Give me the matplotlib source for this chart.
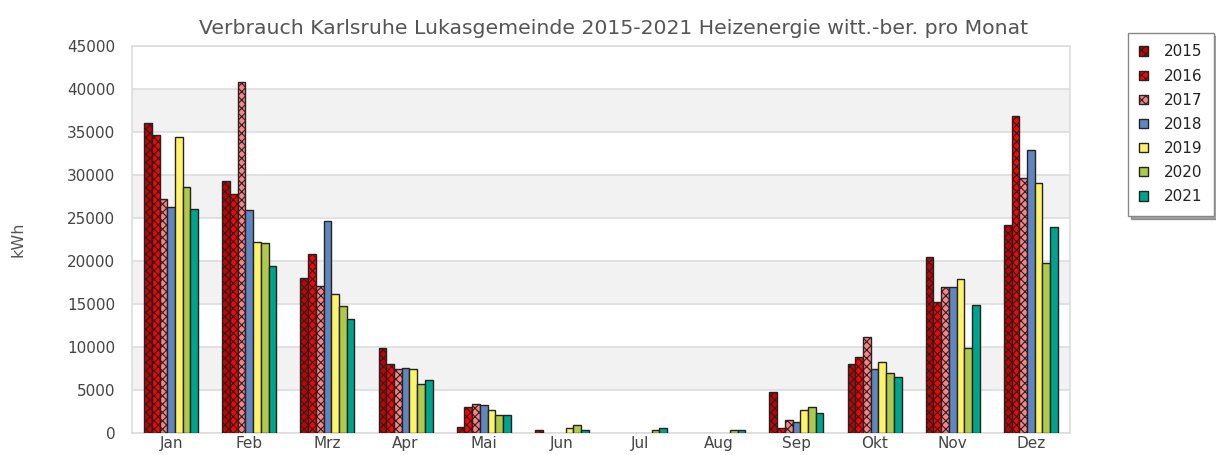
import matplotlib
matplotlib.use("Agg")
import matplotlib.pyplot as plt
import numpy as np

months = ["Jan", "Feb", "Mrz", "Apr", "Mai", "Jun", "Jul", "Aug", "Sep", "Okt", "Nov", "Dez"]
years = ["2015", "2016", "2017", "2018", "2019", "2020", "2021"]

v2015 = [36100, 29300, 18000, 9900, 700, 350, 0, 0, 4800, 8000, 20500, 24200]
v2016 = [34600, 27800, 20800, 8000, 3060, 0, 0, 0, 550, 8870, 15200, 36860]
v2017 = [27200, 40800, 17100, 7400, 3370, 0, 0, 0, 1470, 11200, 16940, 29650]
v2018 = [26300, 25900, 24700, 7600, 3200, 0, 0, 0, 1240, 7400, 16940, 32870]
v2019 = [34400, 22200, 16200, 7400, 2700, 550, 0, 0, 2670, 8300, 17870, 29100]
v2020 = [28600, 22100, 14800, 5700, 2100, 900, 400, 350, 3020, 6940, 9880, 19730]
v2021 = [26100, 19400, 13300, 6200, 2100, 350, 600, 350, 2320, 6550, 14840, 24000]

series = [v2015, v2016, v2017, v2018, v2019, v2020, v2021]
colors = ["#c80000", "#ff0000", "#ff8080", "#5f86c0", "#fff36a", "#afc94c", "#00a38c"]
hatches = ["xxxx", "xxxx", "xxxx", None, None, None, None]

plt.rcParams['hatch.color'] = 'black'
plt.rcParams['hatch.linewidth'] = 0.8
plt.rcParams['font.family'] = ['DejaVu Sans']

fig = plt.figure(figsize=(12.16, 4.55), dpi=100)
ax = fig.add_axes([132/1216, 1-433/455, (1070-132)/1216, (433-46)/455])

x = np.arange(len(months))
n = len(series)
bw = 0.69 / n
for i, (vals, c, h) in enumerate(zip(series, colors, hatches)):
    v = np.array(vals, dtype=float)
    v[v == 0] = np.nan
    ax.bar(x - 0.345 + bw*(i+0.5), v, width=bw, color=c, edgecolor="#222222",
           linewidth=1.0, hatch=h, zorder=3, label=years[i])

ax.set_xlim(-0.5, 11.5)
ax.set_ylim(0, 45000)
ax.set_yticks(np.arange(0, 45001, 5000))
ax.set_yticklabels([str(t) for t in range(0, 45001, 5000)])
for lo in range(5000, 40000, 10000):
    ax.axhspan(lo, lo+5000, color="#f2f2f2", zorder=0, lw=0)
ax.grid(axis="y", color="#dddddd", linewidth=1.2, zorder=1)
ax.set_xticks(x)
ax.set_xticklabels(months)
ax.tick_params(axis="both", length=0, labelsize=11, colors="#444444")
ax.tick_params(axis="y", pad=12)
ax.tick_params(axis="x", pad=2.5)
for s in ax.spines.values():
    s.set_color("#dddddd")
    s.set_linewidth(1.2)
ax.set_ylabel("kWh", fontsize=11.5, color="#555555", labelpad=30)
ax.set_title("Verbrauch Karlsruhe Lukasgemeinde 2015-2021 Heizenergie witt.-ber. pro Monat",
             fontsize=14.7, color="#555555", pad=9, x=(614-132)/(1070-132))

leg = ax.legend(loc="upper left", bbox_to_anchor=(1128/1216, 1-33/455), bbox_transform=fig.transFigure,
                frameon=True, fancybox=False, shadow=True, fontsize=11, handlelength=0.55,
                handleheight=0.55, labelspacing=0.6, borderpad=0.75, handletextpad=1.08,
                borderaxespad=0)
leg.get_frame().set_edgecolor("#888888")
for t in leg.get_texts():
    t.set_color("#222222")

fig.savefig("out.png", dpi=100)
